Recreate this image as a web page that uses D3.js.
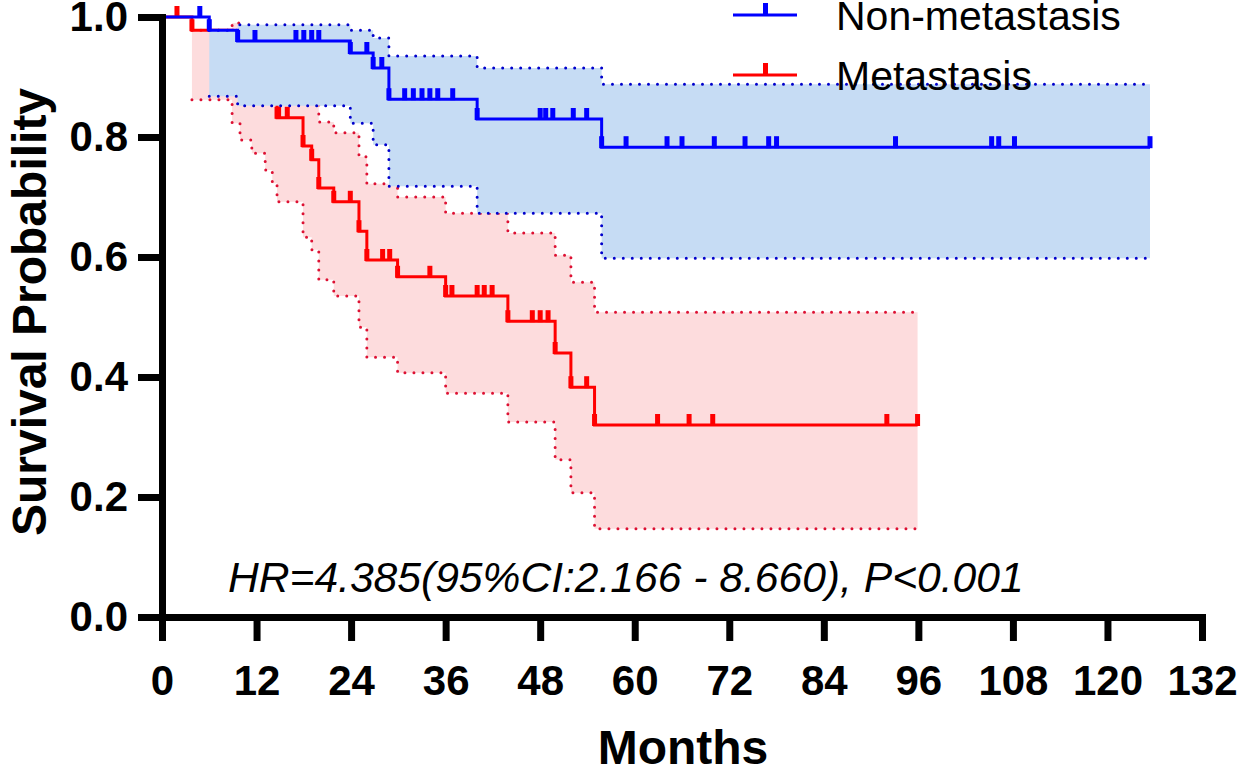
<!DOCTYPE html>
<html lang="en">

<head>
  <meta charset="UTF-8">
  <title>Survival curves</title>
  <style>
    body { margin: 0; background: #fff; }
    svg { display: block; font-family: Arial, "Liberation Sans", sans-serif; }
  </style>
</head>
<script src='https://d3js.org/d3.v7.min.js'></script>

<body>
  <div id="d3"></div>
</body>

<script>
  // tick labels
  const xTicks = [0, 12, 24, 36, 48, 60, 72, 84, 96, 108, 120, 132];
  const yTicks = [0, 0.2, 0.4, 0.6, 0.8, 1.0];

  // Non-metastasis group (months, survival, 95% CI)
  const nonMetEvents = [6.0, 9.6, 23.9, 26.8, 28.8, 40.0, 55.8];
  const nonMetSurv = [0.978, 0.960, 0.940, 0.915, 0.863, 0.830, 0.783];
  const nonMetUpper = [0.978, 0.987, 0.978, 0.965, 0.935, 0.915, 0.888];
  const nonMetLower = [0.868, 0.852, 0.823, 0.787, 0.718, 0.673, 0.598];
  const nonMetCensored = [4.8, 11.8, 17.0, 18.0, 19.0, 19.9, 26.0, 27.9, 30.8, 31.9, 33.0, 34.0, 35.0, 36.9,
    48.0, 48.7, 49.6, 52.2, 53.9, 58.9, 64.1, 66.0, 70.1, 74.0, 77.0, 78.0, 93.1, 105.3, 106.2, 108.2, 125.4];
  const nonMetEnd = 125.4;

  // Metastasis group
  const metEvents = [3.8, 8.9, 9.9, 11.4, 13.1, 14.0, 14.6, 17.9, 19.0, 19.9, 21.8, 25.0, 26.0, 29.9, 36.0, 43.9, 49.9, 51.9, 54.9];
  const metSurv = [0.978, 0.956, 0.933, 0.911, 0.889, 0.867, 0.832, 0.785, 0.762, 0.715, 0.692, 0.643, 0.595, 0.567, 0.535, 0.493, 0.440, 0.383, 0.320];
  const metUpper = [0.978, 0.990, 0.980, 0.970, 0.955, 0.940, 0.915, 0.880, 0.860, 0.825, 0.807, 0.767, 0.722, 0.700, 0.673, 0.640, 0.603, 0.558, 0.508];
  const metLower = [0.862, 0.823, 0.795, 0.773, 0.745, 0.723, 0.692, 0.633, 0.612, 0.562, 0.535, 0.483, 0.433, 0.407, 0.373, 0.325, 0.262, 0.207, 0.147];
  const metCensored = [1.9, 14.8, 15.9, 23.9, 28.0, 28.9, 34.0, 36.8, 40.0, 40.9, 41.9, 47.0, 48.0, 49.0, 53.9, 62.9, 66.9, 69.9, 92.0, 95.9];
  const metEnd = 95.9;

  const groups = [
    { name: 'Metastasis', events: metEvents, surv: metSurv, upper: metUpper, lower: metLower, censored: metCensored, end: metEnd,
      line: '#ff0000', fill: '#fddcdd', dots: '#dd1133' },
    { name: 'Non-metastasis', events: nonMetEvents, surv: nonMetSurv, upper: nonMetUpper, lower: nonMetLower, censored: nonMetCensored, end: nonMetEnd,
      line: '#0000ff', fill: '#c6dcf4', dots: '#0000cc' }
  ];

  const w = 1238, h = 770;

  const x = d3.scaleLinear().domain([0, 132]).range([162, 1202]);
  const y = d3.scaleLinear().domain([0, 1]).range([617, 17]);

  const svg = d3.select("#d3").append("svg")
    .attr("width", w)
    .attr("height", h);

  const survAt = (g, t) => {
    let s = 1;
    g.events.forEach((e, i) => { if (e <= t) s = g.surv[i]; });
    return s;
  };

  const stepLine = d3.line()
    .x((d) => x(d[0]))
    .y((d) => y(d[1]))
    .curve(d3.curveStepAfter);

  const band = d3.area()
    .x((d) => x(d.t))
    .y0((d) => y(d.lo))
    .y1((d) => y(d.hi))
    .curve(d3.curveStepAfter);

  groups.forEach((g) => {
    const ci = g.events.map((t, i) => ({ t: t, lo: g.lower[i], hi: g.upper[i] }));
    const last = ci[ci.length - 1];
    ci.push({ t: g.end, lo: last.lo, hi: last.hi });

    const layer = svg.append('g').attr('class', 'group');

    // CI band
    layer.append('path')
      .attr('d', band(ci))
      .attr('fill', g.fill);

    // dotted CI bounds
    ['lo', 'hi'].forEach((k) => {
      layer.append('path')
        .attr('d', stepLine(ci.map((d) => [d.t, d[k]])))
        .attr('fill', 'none')
        .attr('stroke', g.dots)
        .attr('stroke-width', 3)
        .attr('stroke-linecap', 'round')
        .attr('stroke-dasharray', '0 9');
    });

    // survival curve
    const pts = [[0, 1]].concat(g.events.map((t, i) => [t, g.surv[i]]));
    pts.push([g.end, g.surv[g.surv.length - 1]]);
    layer.append('path')
      .attr('d', stepLine(pts))
      .attr('fill', 'none')
      .attr('stroke', g.line)
      .attr('stroke-width', 3);

    // ticks: censored subjects, plus the mark at each drop
    layer.selectAll('.tick-mark')
      .data(g.censored.concat(g.events))
      .enter()
      .append('rect')
      .attr('x', (d) => x(d) - 2.5)
      .attr('y', (d) => y(survAt(g, d)) - 11)
      .attr('width', 5)
      .attr('height', 12)
      .attr('fill', g.line);
  });

  // AXES
  const xAxis = svg.append('g')
    .attr('transform', `translate(0,${y(0)})`)
    .call(d3.axisBottom(x).tickValues(xTicks).tickSize(24).tickSizeOuter(0).tickPadding(24));

  const yAxis = svg.append('g')
    .attr('transform', `translate(${x(0)},0)`)
    .call(d3.axisLeft(y).tickValues(yTicks).tickFormat(d3.format('.1f')).tickSize(24).tickSizeOuter(0).tickPadding(10));

  [xAxis, yAxis].forEach((a) => {
    a.select('.domain').attr('stroke', '#000').attr('stroke-width', 7).attr('stroke-linecap', 'square');
    a.selectAll('.tick line').attr('stroke', '#000').attr('stroke-width', 7);
    a.selectAll('.tick text')
      .attr('fill', '#000')
      .style('font-size', '42px')
      .style('font-weight', 'bold')
      .style('font-family', 'Arial, "Liberation Sans", sans-serif');
  });

  svg.append('text')
    .attr('x', 683)
    .attr('y', 764)
    .attr('text-anchor', 'middle')
    .style('font-size', '48px')
    .style('font-weight', 'bold')
    .text('Months');

  svg.append('text')
    .attr('transform', 'translate(46,312) rotate(-90)')
    .attr('text-anchor', 'middle')
    .style('font-size', '48px')
    .style('font-weight', 'bold')
    .text('Survival Probability');

  // LEGEND
  const legend = svg.selectAll('.legend')
    .data(groups.slice().reverse())
    .enter()
    .append('g')
    .attr('class', 'legend')
    .attr('transform', (d, i) => `translate(0,${15 + i * 60})`);

  legend.append('line')
    .attr('x1', 733).attr('x2', 797)
    .attr('stroke', (d) => d.line)
    .attr('stroke-width', 3);

  legend.append('rect')
    .attr('x', 763).attr('y', -12)
    .attr('width', 5).attr('height', 12)
    .attr('fill', (d) => d.line);

  legend.append('text')
    .attr('x', 836)
    .attr('y', 15)
    .style('font-size', '41px')
    .text((d) => d.name);

  svg.append('text')
    .attr('x', 228)
    .attr('y', 592)
    .style('font-size', '42.6px')
    .style('font-style', 'italic')
    .text('HR=4.385(95%CI:2.166 - 8.660), P<0.001');
</script>

</html>
